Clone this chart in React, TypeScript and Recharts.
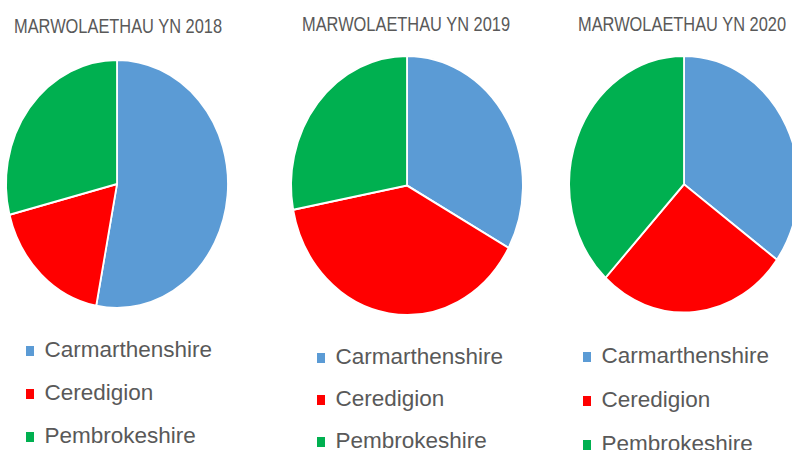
import React from 'react';
import { PieChart, Pie, Cell, Legend, Sector } from 'recharts';

const COUNTIES = ['Carmarthenshire', 'Ceredigion', 'Pembrokeshire'];
const COLORS = ['#5B9BD5', '#FF0000', '#00B050'];

const YEARS = ['2018', '2019', '2020'];
const deaths2018 = [53, 18, 29];
const deaths2019 = [33, 39, 28];
const deaths2020 = [35, 27, 38];

const TEXT = '#595959';
const FONT = '"Liberation Sans", Arial, sans-serif';

// the original pies are squashed sideways a little
const SQUASH = 0.895;

const toData = (values: number[]) =>
  COUNTIES.map((name, i) => ({ name, value: values[i] }));

const panels = [
  { year: YEARS[0], data: toData(deaths2018), cx: 117, cy: 184, r: 124, titleX: 14, titleY: 17, legX: 26, legY: 328, rowH: 43 },
  { year: YEARS[1], data: toData(deaths2019), cx: 143, cy: 185.5, r: 129.5, titleX: 38, titleY: 15, legX: 53, legY: 336, rowH: 42 },
  { year: YEARS[2], data: toData(deaths2020), cx: 156, cy: 184.3, r: 128.3, titleX: 50, titleY: 15, legX: 55, legY: 334, rowH: 44 },
];

const OvalSector = (props: any) => {
  const { cx, cy } = props;
  return (
    <g transform={`translate(${cx},${cy}) scale(${SQUASH},1) translate(${-cx},${-cy})`}>
      <Sector {...props} stroke="#fff" strokeWidth={2} />
    </g>
  );
};

const LegendList = ({ payload, rowH }: any) => (
  <div style={{ fontFamily: FONT }}>
    {(payload || []).map((p: any) => (
      <div key={p.value} style={{ position: 'relative', height: rowH, lineHeight: `${rowH}px` }}>
        <span
          style={{
            position: 'absolute',
            left: 0,
            top: rowH / 2 - 5 + 1,
            width: 8,
            height: 10,
            background: p.color,
          }}
        />
        <span style={{ position: 'absolute', left: 18.5, top: 0, fontSize: 22.5, color: TEXT, whiteSpace: 'nowrap' }}>
          {p.value}
        </span>
      </div>
    ))}
  </div>
);

const App = () => {
  return (
    <div style={{ position: 'fixed', left: 0, top: 0, width: 792, height: 450, overflow: 'hidden', background: '#fff' }}>
      {panels.map((p, k) => (
        <div key={p.year} style={{ position: 'absolute', left: k * 264, top: 0, width: 264, height: 450 }}>
          <div
            style={{
              position: 'absolute',
              left: p.titleX,
              top: p.titleY,
              fontFamily: FONT,
              fontSize: 16.4,
              lineHeight: '20px',
              color: TEXT,
              whiteSpace: 'nowrap',
              transform: 'scaleY(1.27)',
              transformOrigin: '0 15.7px',
              zIndex: 2,
            }}
          >
            MARWOLAETHAU YN {p.year}
          </div>
          <PieChart width={264} height={450} margin={{ top: 0, right: 0, bottom: 0, left: 0 }}>
            <Pie
              data={p.data}
              dataKey="value"
              nameKey="name"
              cx={p.cx}
              cy={p.cy}
              outerRadius={p.r}
              startAngle={90}
              endAngle={-270}
              shape={OvalSector}
              isAnimationActive={false}
            >
              {p.data.map((entry, i) => (
                <Cell key={entry.name} fill={COLORS[i % COLORS.length]} />
              ))}
            </Pie>
            <Legend
              layout="horizontal"
              verticalAlign="bottom"
              align="left"
              wrapperStyle={{ left: p.legX, top: p.legY, width: 230, bottom: 'auto' }}
              content={(props: any) => <LegendList payload={props.payload} rowH={p.rowH} />}
            />
          </PieChart>
        </div>
      ))}
    </div>
  );
};

export default App;
